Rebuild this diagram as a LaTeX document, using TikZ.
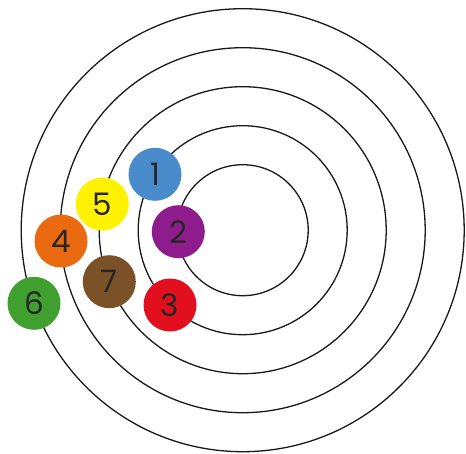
\documentclass[tikz,border=0pt]{standalone}
\usepackage{fontspec}
\setmainfont{Poppins}

\definecolor{dotblue}{HTML}{4A8CCB}
\definecolor{dotpurple}{HTML}{8E1C8C}
\definecolor{dotred}{HTML}{E2101F}
\definecolor{dotorange}{HTML}{EA6A12}
\definecolor{dotyellow}{HTML}{FFF200}
\definecolor{dotgreen}{HTML}{40A02F}
\definecolor{dotbrown}{HTML}{7B5128}

\tikzset{
  ring/.style={line width=1.3pt, draw=black!90},
  dot/.style={circle, minimum size=53pt, inner sep=0pt, text=black!85,
    font=\fontsize{31}{31}\selectfont}
}

\begin{document}
\begin{tikzpicture}[x=1pt, y=-1pt]
\useasboundingbox (0,0) rectangle (466,453);
\coordinate (O) at (242.7,230.2);

% target rings
\foreach \r in {65.5,104.5,143.5,182.5,221.5}
  \draw[ring] (O) circle[radius=\r];

% numbered dots
\node[dot, fill=dotblue]   (one)   at (155,174.3) {1};
\node[dot, fill=dotpurple] (two)   at (178.3,231.7) {2};
\node[dot, fill=dotred]    (three) at (170,305) {3};
\node[dot, fill=dotorange] (four)  at (61,241) {4};
\node[dot, fill=dotyellow] (five)  at (102.3,204) {5};
\node[dot, fill=dotgreen]  (six)   at (34,303.3) {6};
\node[dot, fill=dotbrown]  (seven) at (109.3,281.7) {7};
\end{tikzpicture}
\end{document}
